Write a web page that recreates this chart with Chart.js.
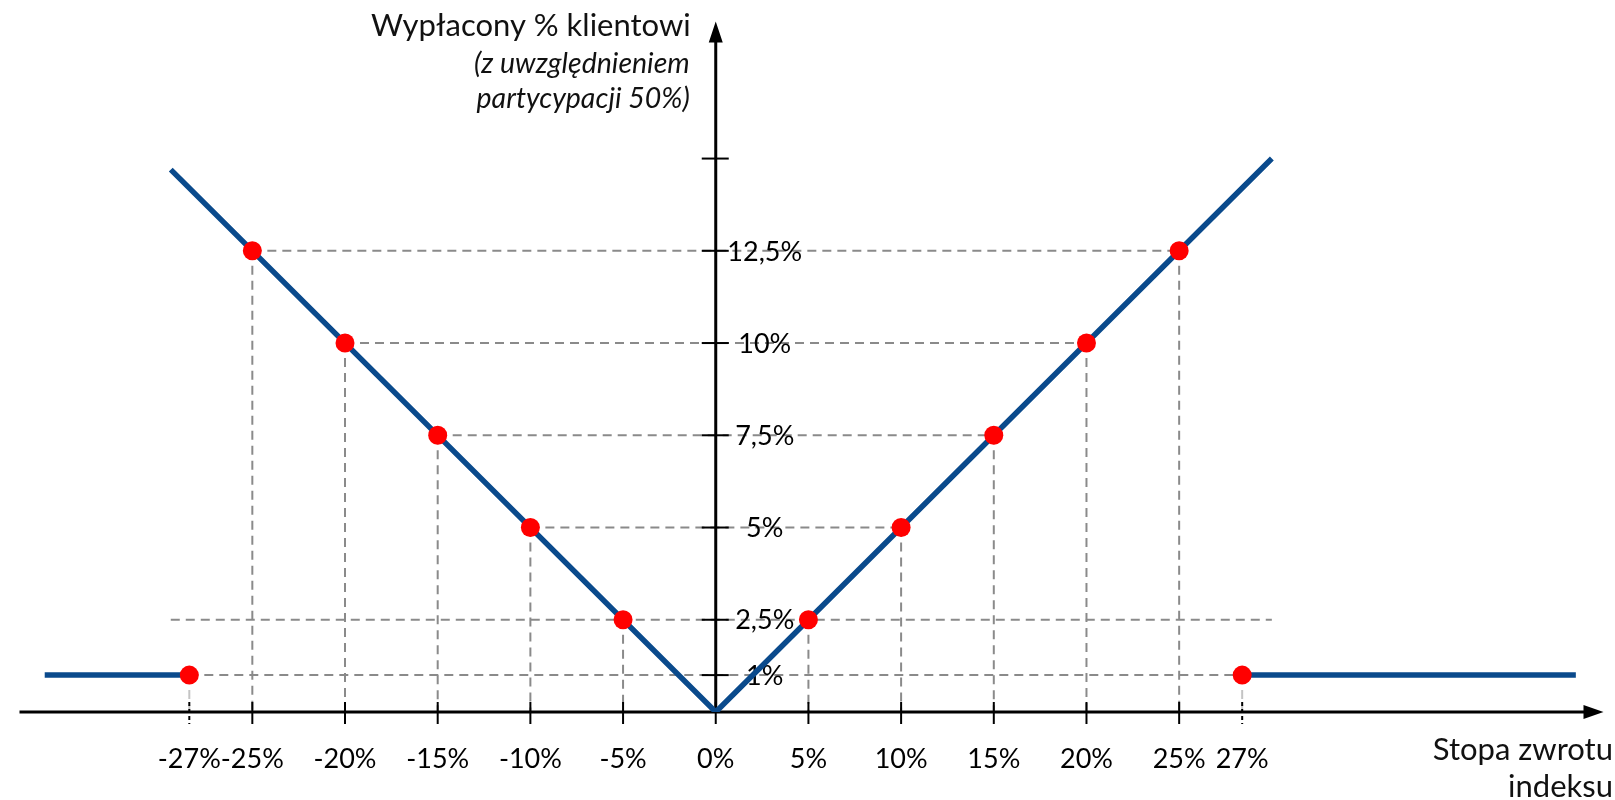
<!DOCTYPE html>
<html lang="pl">
<head>
<meta charset="utf-8">
<script src="https://cdn.jsdelivr.net/npm/chart.js@4.4.1/dist/chart.umd.min.js"></script>
<style>
    html, body { margin: 0; padding: 0; background: #fff; }
    #wrap { width: 1615px; height: 800px; position: relative; }
</style>
</head>
<body>
<div id="wrap"><canvas id="payoffChart"></canvas></div>
<script>
// tick positions and their labels (the 27% ticks sit a bit past 27 in the original drawing)
const xTickValues = [-28.4, -25, -20, -15, -10, -5, 0, 5, 10, 15, 20, 25, 28.4];
const xTickLabels = ['-27%', '-25%', '-20%', '-15%', '-10%', '-5%', '0%', '5%', '10%', '15%', '20%', '25%', '27%'];
const yTickValues = [1, 2.5, 5, 7.5, 10, 12.5, 15];
const yTickLabels = ['1%', '2,5%', '5%', '7,5%', '10%', '12,5%', ''];

// payoff: V shape (50% participation) and the 1% floor outside the band
const payoffX = [-29.4, 0, 30];
const payoffY = [14.7, 0, 15];
const floorLeftX = [-36.2, -28.4];
const floorRightX = [28.4, 46.4];
const floorY = [1, 1];

// highlighted points
const markerX = [-28.4, -25, -20, -15, -10, -5, 5, 10, 15, 20, 25, 28.4];
const markerY = [1, 12.5, 10, 7.5, 5, 2.5, 2.5, 5, 7.5, 10, 12.5, 1];

// horizontal guide lines
const guideLevels = [12.5, 10, 7.5, 5, 2.5, 1];
const guideFrom = [-25, -20, -15, -10, -29.4, -28.4];
const guideTo = [25, 20, 15, 10, 30, 28.4];

const BLUE = '#0a4a8c';
const GREY = '#8a8a8a';
const FONT = 'Lato, "Open Sans", sans-serif';

function pts(xs, ys) {
    return xs.map((x, i) => ({ x, y: ys[i] }));
}

const guideSets = guideLevels.map((lvl, i) => ({
    data: [{ x: guideFrom[i], y: lvl }, { x: guideTo[i], y: lvl }],
    borderColor: GREY,
    borderWidth: 2,
    borderDash: [9, 6],
    pointRadius: 0,
    order: 3
}));

const dropSets = markerX.map((mx, i) => ({
    data: [{ x: mx, y: markerY[i] }, { x: mx, y: 0 }],
    borderColor: Math.abs(mx) > 27 ? '#c4c4c4' : GREY,
    borderWidth: 2,
    borderDash: [9, 6],
    pointRadius: 0,
    order: 3
}));

const lineStyle = {
    borderColor: BLUE,
    borderWidth: 5.5,
    pointRadius: 0,
    borderCapStyle: 'butt',
    order: 1
};

let axesDrawn = false;

function drawAxes(chart) {
    const ctx = chart.ctx;
    const xs = chart.scales.x;
    const ys = chart.scales.y;
    const x0 = xs.getPixelForValue(0);
    const y0 = ys.getPixelForValue(0);
    const right = xs.right - 2;
    const top = chart.chartArea.top + 12;

    ctx.save();
    ctx.strokeStyle = '#000';
    ctx.fillStyle = '#000';

    // main axis lines
    ctx.lineWidth = 3;
    ctx.beginPath();
    ctx.moveTo(xs.left + 10, y0);
    ctx.lineTo(right - 14, y0);
    ctx.moveTo(x0, y0);
    ctx.lineTo(x0, top + 14);
    ctx.stroke();

    // arrow heads
    ctx.beginPath();
    ctx.moveTo(right, y0);
    ctx.lineTo(right - 20, y0 - 7);
    ctx.lineTo(right - 20, y0 + 7);
    ctx.closePath();
    ctx.moveTo(x0, top);
    ctx.lineTo(x0 - 7, top + 21);
    ctx.lineTo(x0 + 7, top + 21);
    ctx.closePath();
    ctx.fill();

    // y ticks + labels
    ctx.lineWidth = 2;
    ctx.font = '27px ' + FONT;
    ctx.textAlign = 'center';
    ctx.textBaseline = 'middle';
    yTickValues.forEach((v, i) => {
        const py = ys.getPixelForValue(v);
        ctx.beginPath();
        ctx.moveTo(x0 - 14, py);
        ctx.lineTo(x0 + 13, py);
        ctx.stroke();
        ctx.fillText(yTickLabels[i], x0 + 49, py + 1);
    });

    // x ticks + labels
    xTickValues.forEach((v, i) => {
        const px = xs.getPixelForValue(v);
        ctx.setLineDash(Math.abs(v) > 27 ? [4, 3] : []);
        ctx.beginPath();
        ctx.moveTo(px, y0 - 10);
        ctx.lineTo(px, y0 + 12);
        ctx.stroke();
        ctx.fillText(xTickLabels[i], px, y0 + 47);
    });
    ctx.setLineDash([]);
    ctx.restore();
}

function drawTitles(chart) {
    const ctx = chart.ctx;
    const x0 = chart.scales.x.getPixelForValue(0);
    ctx.save();
    ctx.fillStyle = '#111';
    ctx.textAlign = 'right';
    ctx.textBaseline = 'middle';
    ctx.font = '31px ' + FONT;
    ctx.fillText('Wypłacony % klientowi', x0 - 25, 26);
    ctx.font = 'italic 28.5px ' + FONT;
    ctx.fillText('(z uwzględnieniem', x0 - 26, 64);
    ctx.fillText('partycypacji 50%)', x0 - 26, 99);

    ctx.font = '31px ' + FONT;
    ctx.fillText('Stopa zwrotu', chart.width - 2, 750);
    ctx.fillText('indeksu', chart.width - 2, 787);
    ctx.restore();
}

const axesPlugin = {
    id: 'crossAxes',
    beforeDraw() { axesDrawn = false; },
    beforeDatasetDraw(chart, args) {
        if (axesDrawn || chart.data.datasets[args.index].order !== 1) return;
        axesDrawn = true;
        drawAxes(chart);
    },
    afterDatasetsDraw(chart) { drawTitles(chart); }
};

new Chart(document.getElementById('payoffChart'), {
    type: 'line',
    data: {
        datasets: [
            {
                data: pts(markerX, markerY),
                showLine: false,
                pointRadius: 9.5,
                pointBackgroundColor: '#ff0000',
                pointBorderWidth: 0,
                order: 0
            },
            { ...lineStyle, data: pts(payoffX, payoffY) },
            { ...lineStyle, data: pts(floorLeftX, floorY) },
            { ...lineStyle, data: pts(floorRightX, floorY) },
            ...guideSets,
            ...dropSets
        ]
    },
    options: {
        responsive: true,
        maintainAspectRatio: false,
        animation: false,
        layout: { padding: { left: 0, right: 0, top: 0, bottom: 88 } },
        plugins: {
            legend: { display: false },
            tooltip: { enabled: false }
        },
        scales: {
            x: { type: 'linear', min: -38.1, max: 48.0, display: false },
            y: { type: 'linear', min: 0, max: 19.04, display: false }
        },
        elements: { line: { tension: 0 } }
    },
    plugins: [axesPlugin]
});
</script>
</body>
</html>
